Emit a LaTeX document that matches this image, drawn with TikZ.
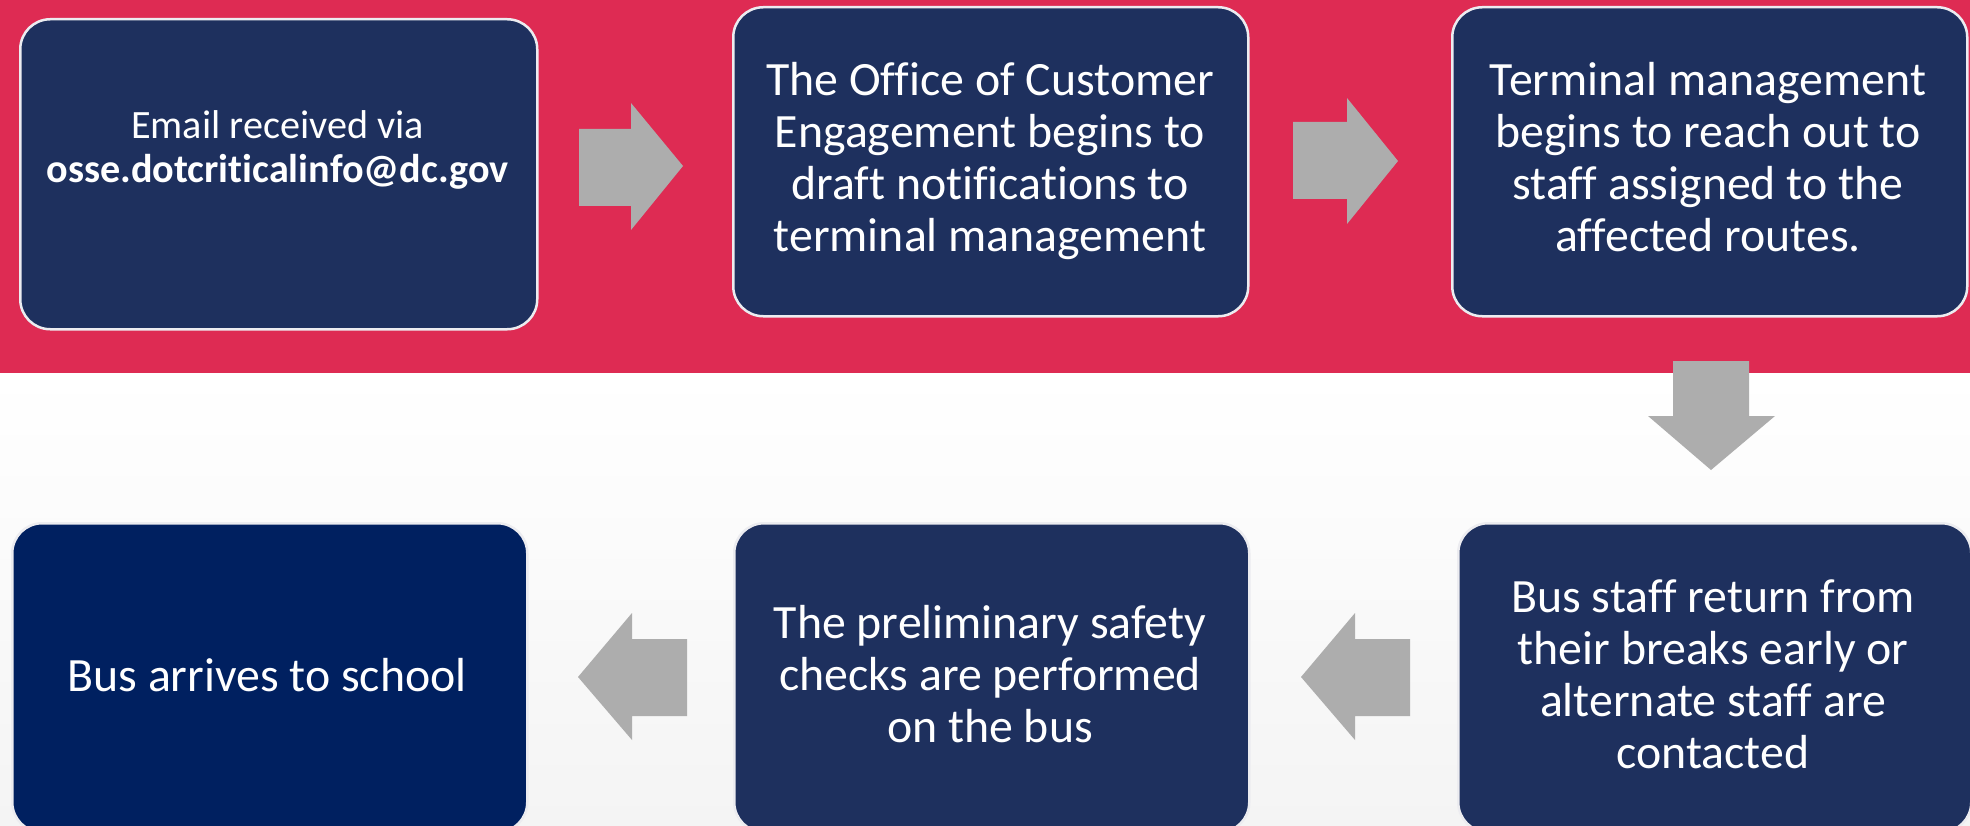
\documentclass[tikz,border=0pt]{standalone}
\usepackage{fontspec}
\setmainfont{Carlito}[Ligatures=NoCommon]
\definecolor{bandred}{RGB}{222,43,83}
\definecolor{navy}{RGB}{30,48,94}
\definecolor{navydeep}{RGB}{0,32,96}
\definecolor{arrowgray}{RGB}{173,173,173}
\definecolor{boxline}{RGB}{236,236,240}
\definecolor{bgbottom}{RGB}{244,244,244}
\begin{document}
\begin{tikzpicture}[x=1pt,y=-1pt,
  stepbox/.style={rounded corners=30pt, fill=navy, draw=boxline, line width=2.5pt,
    minimum width=515pt, minimum height=309pt, inner sep=0pt, anchor=north west},
  steptext/.style={text=white, align=center, anchor=base, inner sep=0pt,
    font=\fontsize{47.8}{52}\selectfont},
  blockarrow/.style={fill=arrowgray}]
\useasboundingbox (0,0) rectangle (1970,826);
\clip (0,0) rectangle (1970,826);
% backgrounds
\fill[bandred] (0,0) rectangle (1970,373);
\shade[top color=white, bottom color=bgbottom] (0,373) rectangle (1970,826);
% boxes
\node[stepbox, minimum width=517pt, minimum height=310pt] (b1) at (19,18) {};
\node[stepbox] (b2) at (732,6) {};
\node[stepbox] (b3) at (1451,6) {};
\node[stepbox, fill=navydeep] (b4) at (11,522) {};
\node[stepbox] (b5) at (733,522) {};
\node[stepbox, minimum width=513pt] (b6) at (1457,522) {};
% texts (anchor = baseline of last line)
\node[steptext, font=\fontsize{40.2}{44}\selectfont] (t1) at (277.5,183)
  {Email received via\\\textbf{osse.dotcriticalinfo@dc.gov}};
\node[steptext] (t2) at (990,252)
  {The Office of Customer\\Engagement begins to\\draft notifications to\\terminal management};
\node[steptext] (t3) at (1708,252)
  {Terminal management\\begins to reach out to\\staff assigned to the\\affected routes.};
\node[steptext] (t4) at (267,691) {Bus arrives to school};
\node[steptext] (t5) at (990,742)
  {The preliminary safety\\checks are performed\\on the bus};
\node[steptext] (t6) at (1713,768)
  {Bus staff return from\\their breaks early or\\alternate staff are\\contacted};
% block arrows
\fill[blockarrow] (579,129) -- (631,129) -- (631,103) -- (683,166) -- (631,230) -- (631,206) -- (579,206) -- cycle;
\fill[blockarrow] (1293,122) -- (1347,122) -- (1347,98) -- (1398,161) -- (1347,224) -- (1347,199) -- (1293,199) -- cycle;
\fill[blockarrow] (1673,361) -- (1749,361) -- (1749,416) -- (1775,416) -- (1711,470) -- (1648,416) -- (1673,416) -- cycle;
\fill[blockarrow] (687,639) -- (632,639) -- (632,613) -- (578,677) -- (632,740) -- (632,716) -- (687,716) -- cycle;
\fill[blockarrow] (1410,639) -- (1355,639) -- (1355,613) -- (1301,677) -- (1355,740) -- (1355,716) -- (1410,716) -- cycle;
\end{tikzpicture}
\end{document}
